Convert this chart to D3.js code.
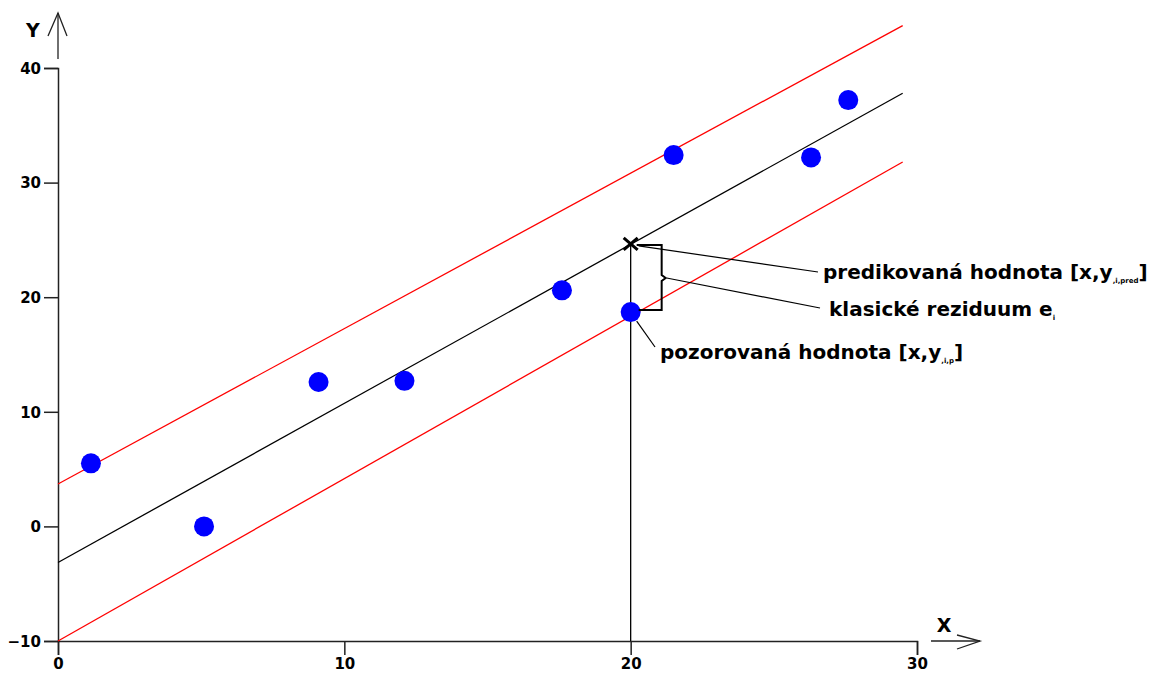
<!DOCTYPE html>
<html>
<head>
<meta charset="utf-8">
<script src="https://cdn.jsdelivr.net/npm/d3@7"></script>
<style>
  body { margin: 0; background: #fff; }
  text { font-family: "DejaVu Sans", "Liberation Sans", Arial, sans-serif; font-weight: bold; }
</style>
</head>
<body>
<div id="chart-area"></div>
<script>
// observed points
var pointsX = [1.15, 5.1, 9.1, 12.1, 17.6, 20.0, 21.5, 26.3, 27.6];
var pointsY = [5.5, 0.0, 12.6, 12.7, 20.6, 18.7, 32.4, 32.2, 37.2];

// regression line and band (endpoints)
var lineX = [0, 29.5];
var regY = [-3.15, 37.8];
var upperY = [3.7, 43.7];
var lowerY = [-10.0, 31.8];

// highlighted point
var selX = 20.0;
var selObs = 18.7;
var selPred = 24.65;

var xTicks = [0, 10, 20, 30];
var yTicks = [-10, 0, 10, 20, 30, 40];

var width = 1155, height = 678;

var svg = d3.select("#chart-area").append("svg")
    .attr("width", width)
    .attr("height", height);

var x = d3.scaleLinear().domain([0, 30]).range([58, 917]);
var y = d3.scaleLinear().domain([-10, 40]).range([641, 68]);

// axes
var xAxis = svg.append("g")
    .attr("transform", `translate(0, ${y(-10)})`)
    .call(d3.axisBottom(x).tickValues(xTicks).tickSize(14).tickSizeOuter(14).tickFormat(d3.format("d")));
var yAxis = svg.append("g")
    .attr("transform", `translate(${x(0)}, 0)`)
    .call(d3.axisLeft(y).tickValues(yTicks).tickSize(14).tickSizeOuter(14).tickFormat(d3.format("d")));

[xAxis, yAxis].forEach(function (a) {
    a.selectAll("path, line").attr("stroke", "#222").attr("stroke-width", 1.5);
    a.selectAll("text").attr("fill", "#000").attr("font-size", "15px")
        .attr("font-family", "'DejaVu Sans', sans-serif").attr("font-weight", "bold");
});
xAxis.selectAll("text").attr("y", 17);
yAxis.selectAll("text").attr("x", -17).attr("dy", "0.35em");

// axis arrows
var ax = svg.append("g").attr("stroke", "#222").attr("fill", "none").attr("stroke-width", 1.3);
ax.append("line").attr("x1", x(0)).attr("x2", x(0)).attr("y1", y(40) - 9).attr("y2", 13);
ax.append("path").attr("d", `M${x(0) - 10},36 L${x(0)},13 L${x(0) + 9},36`);
ax.append("line").attr("x1", x(30) + 14).attr("x2", 980).attr("y1", y(-10)).attr("y2", y(-10));
ax.append("path").attr("d", `M957,635 L980,${y(-10)} L957,649`);

svg.append("text").attr("x", 33).attr("y", 37).attr("font-size", "19px").attr("text-anchor", "middle").text("Y");
svg.append("text").attr("x", 944).attr("y", 632).attr("font-size", "19px").attr("text-anchor", "middle").text("X");

// band and regression lines
function seg(ys, color) {
    svg.append("line")
        .attr("x1", x(lineX[0])).attr("y1", y(ys[0]))
        .attr("x2", x(lineX[1])).attr("y2", y(ys[1]))
        .attr("stroke", color).attr("stroke-width", 1.3);
}
seg(upperY, "#ff0000");
seg(lowerY, "#ff0000");
seg(regY, "#000");

// vertical line at selected x
svg.append("line")
    .attr("x1", x(selX)).attr("x2", x(selX))
    .attr("y1", y(-10)).attr("y2", y(selPred))
    .attr("stroke", "#000").attr("stroke-width", 1.3);

// points
svg.selectAll("circle")
    .data(pointsX)
    .enter()
    .append("circle")
    .attr("cx", function (d) { return x(d); })
    .attr("cy", function (d, i) { return y(pointsY[i]); })
    .attr("r", 10)
    .attr("fill", "#0000ff");

// predicted cross
var cx = x(selX), cyP = y(selPred), cyO = y(selObs);
svg.append("path")
    .attr("d", `M${cx - 7},${cyP - 6} L${cx + 7},${cyP + 6} M${cx - 7},${cyP + 6} L${cx + 7},${cyP - 6}`)
    .attr("stroke", "#000").attr("stroke-width", 3);

// residual brace
var bx = cx + 31, midY = (cyP + cyO) / 2;
svg.append("path")
    .attr("d", `M${cx + 6},${cyP + 1} H${bx} V${midY - 3} L${bx + 4},${midY} L${bx},${midY + 3} V${cyO - 2} H${cx + 8}`)
    .attr("fill", "none").attr("stroke", "#000").attr("stroke-width", 2);

// leader lines
var lead = svg.append("g").attr("stroke", "#000").attr("stroke-width", 1.2);
lead.append("line").attr("x1", cx + 8).attr("y1", cyP + 2).attr("x2", 818).attr("y2", 272);
lead.append("line").attr("x1", bx + 5).attr("y1", midY).attr("x2", 820).attr("y2", 308);
lead.append("line").attr("x1", cx + 6).attr("y1", cyO + 9).attr("x2", 655).attr("y2", 347);

// annotation texts
function label(xp, yp, main, sub, tail) {
    var t = svg.append("text").attr("x", xp).attr("y", yp).attr("font-size", "20px").attr("fill", "#000");
    t.append("tspan").text(main);
    t.append("tspan").attr("font-size", "7px").attr("dy", 4).text(sub);
    if (tail) t.append("tspan").attr("dy", -4).text(tail);
}
label(823, 279, "predikovaná hodnota [x,y", ",i,pred", "]");
label(829, 316, "klasické reziduum e", "i", "");
label(660, 359, "pozorovaná hodnota [x,y", ",i,p", "]");
</script>
</body>
</html>
